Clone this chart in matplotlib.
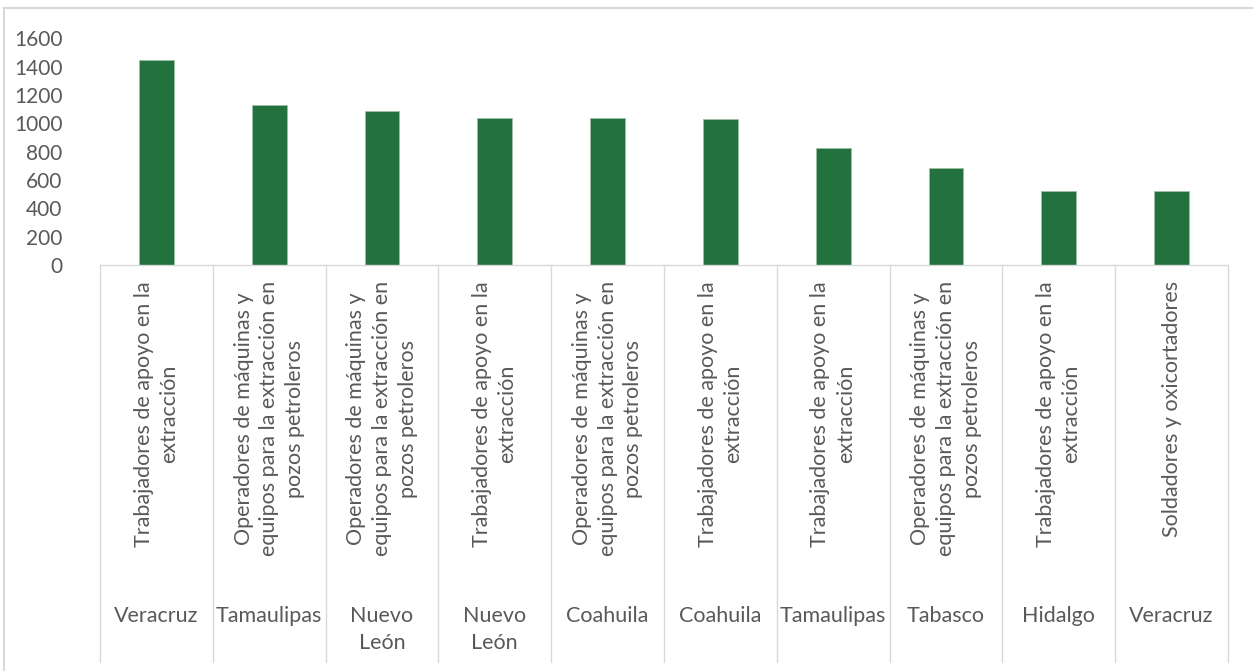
import matplotlib

matplotlib.use("Agg")
import matplotlib.pyplot as plt
from matplotlib.transforms import blended_transform_factory

# ---------------------------------------------------------------------------
# Data
# ---------------------------------------------------------------------------

ocupaciones = [
    "Trabajadores de apoyo en la\nextracción",
    "Operadores de máquinas y\nequipos para la extracción en\npozos petroleros",
    "Operadores de máquinas y\nequipos para la extracción en\npozos petroleros",
    "Trabajadores de apoyo en la\nextracción",
    "Operadores de máquinas y\nequipos para la extracción en\npozos petroleros",
    "Trabajadores de apoyo en la\nextracción",
    "Trabajadores de apoyo en la\nextracción",
    "Operadores de máquinas y\nequipos para la extracción en\npozos petroleros",
    "Trabajadores de apoyo en la\nextracción",
    "Soldadores y oxicortadores",
]
estados = [
    "Veracruz", "Tamaulipas", "Nuevo\nLeón", "Nuevo\nLeón", "Coahuila",
    "Coahuila", "Tamaulipas", "Tabasco", "Hidalgo", "Veracruz",
]
valores = [1445, 1132, 1085, 1035, 1035, 1028, 828, 685, 524, 524]
y_ticks = [0, 200, 400, 600, 800, 1000, 1200, 1400, 1600]

BAR_COLOR = "#247140"
TEXT_COLOR = "#595959"
LINE_COLOR = "#d9d9d9"

plt.rcParams["font.family"] = ["Lato", "DejaVu Sans"]

W, H = 1253, 671
fig = plt.figure(figsize=(W / 100, H / 100), dpi=100)

# plot area in pixels: x 100..1228, y 38..265 (from top)
ax = fig.add_axes([100 / W, 1 - 265 / H, 1128 / W, (265 - 38.3) / H])

x = list(range(len(valores)))
ax.bar(x, valores, width=0.31, color=BAR_COLOR, edgecolor="#9dbfa6", linewidth=0.6)

ax.set_xlim(-0.5, len(valores) - 0.5)
ax.set_ylim(0, 1600)
ax.set_yticks(y_ticks)
ax.set_yticklabels([str(v) for v in y_ticks], fontsize=15, color=TEXT_COLOR)
ax.tick_params(axis="y", length=0, pad=27)
ax.set_xticks([])

for side in ("top", "right", "left"):
    ax.spines[side].set_visible(False)
ax.spines["bottom"].set_color(LINE_COLOR)
ax.spines["bottom"].set_linewidth(1)

# category separators and labels (x in data, y in figure fraction)
tr = blended_transform_factory(ax.transData, fig.transFigure)
y_base = 1 - 265 / H
y_end = 1 - 662 / H
for i in range(len(valores) + 1):
    ax.plot([i - 0.5, i - 0.5], [y_base, y_end], color=LINE_COLOR, lw=1,
            transform=tr, clip_on=False)

for i, (occ, est) in enumerate(zip(ocupaciones, estados)):
    ax.text(i, 1 - 281 / H, occ, transform=tr, rotation=90, ha="center", va="top",
            multialignment="center", fontsize=15.5, color=TEXT_COLOR, linespacing=1.35)
    ax.text(i, 1 - 606 / H, est, transform=tr, ha="center", va="top",
            multialignment="center", fontsize=15.5, color=TEXT_COLOR, linespacing=1.45)

# chart area border (top and left edges visible in the reference)
fig.add_artist(plt.Line2D([4 / W, 1], [1 - 8 / H, 1 - 8 / H], color=LINE_COLOR, lw=1.5,
                          transform=fig.transFigure))
fig.add_artist(plt.Line2D([4 / W, 4 / W], [0, 1 - 8 / H], color=LINE_COLOR, lw=1.5,
                          transform=fig.transFigure))

fig.savefig("out.png", dpi=100)
